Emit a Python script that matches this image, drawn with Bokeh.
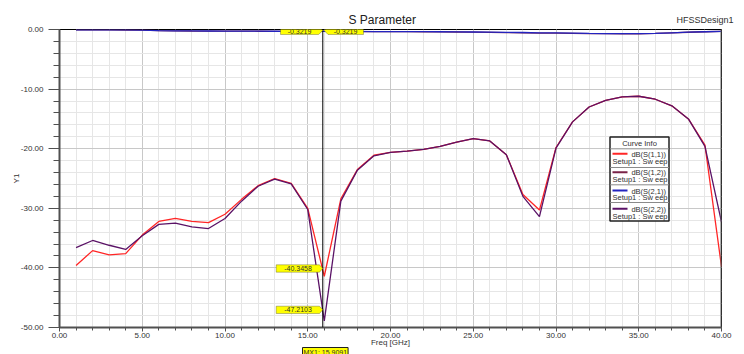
from bokeh.plotting import figure
from bokeh.models import (Range1d, SingleIntervalTicker, FixedTicker, PrintfTickFormatter,
                          Label, Span, PolyAnnotation, LinearAxis, Title)
from bokeh.core.properties import value
from bokeh.embed import file_html
from bokeh.resources import INLINE

# ---------------- data ----------------
freq = list(range(1, 41))
s11 = [-39.6, -37.1, -37.8, -37.6, -34.5, -32.2, -31.7, -32.2, -32.4, -31.0,
       -28.5, -26.2, -25.0, -25.8, -30.0, -41.4, -28.4, -23.5, -21.1, -20.6,
       -20.4, -20.1, -19.6, -18.9, -18.3, -18.7, -21.0, -27.7, -30.3, -19.8,
       -15.5, -13.0, -11.9, -11.3, -11.2, -11.7, -12.8, -15.0, -19.4, -39.8]
s22 = [-36.6, -35.4, -36.2, -36.9, -34.6, -32.7, -32.5, -33.1, -33.4, -31.7,
       -28.8, -26.3, -25.1, -25.9, -30.2, -48.9, -28.8, -23.6, -21.2, -20.6,
       -20.4, -20.1, -19.6, -18.9, -18.3, -18.7, -21.0, -28.0, -31.4, -19.9,
       -15.5, -13.0, -11.9, -11.3, -11.2, -11.7, -12.8, -15.0, -19.6, -32.3]
s21 = [-0.05, -0.05, -0.06, -0.07, -0.10, -0.20, -0.22, -0.24, -0.25, -0.26,
       -0.27, -0.28, -0.29, -0.30, -0.31, -0.322, -0.33, -0.33, -0.34, -0.35,
       -0.36, -0.37, -0.38, -0.40, -0.42, -0.45, -0.48, -0.50, -0.55, -0.58,
       -0.60, -0.65, -0.68, -0.70, -0.70, -0.65, -0.55, -0.45, -0.38, -0.32]
s12 = [-0.05, -0.05, -0.06, -0.08, -0.12, -0.20, -0.23, -0.25, -0.26, -0.27,
       -0.28, -0.29, -0.30, -0.31, -0.32, -0.322, -0.33, -0.34, -0.35, -0.36,
       -0.37, -0.38, -0.40, -0.42, -0.45, -0.48, -0.52, -0.56, -0.60, -0.62,
       -0.64, -0.68, -0.70, -0.72, -0.71, -0.66, -0.56, -0.46, -0.38, -0.32]

series_names = ["dB(S(1,1))", "dB(S(1,2))", "dB(S(2,1))", "dB(S(2,2))"]
series_colors = ["#ff2626", "#7a2348", "#2424c0", "#5a1266"]
sweep_label = "Setup1 : Sw eep"
title_text = "S Parameter"
design_text = "HFSSDesign1"
x_label = "Freq [GHz]"
y_label = "Y1"
marker_freq = 15.9091
marker_top_vals = ["-0.3219", "-0.3219"]
marker_low_vals = ["-40.3458", "-47.2103"]
marker_name = "MX1: 15.9091"

FONT = "Liberation Sans"
YEL = "#ffff00"

# ---------------- layout helpers (page px -> data) ----------------
W, H = 744, 354
L, R, T, B = 59, 23, 29, 27
X0, X1, Y0, Y1 = 0.0, 40.0, -50.0, 0.0
FW, FH = W - L - R, H - T - B


def dx(px):
    return X0 + (px - L) / FW * (X1 - X0)


def dy(py):
    return Y1 - (py - T) / FH * (Y1 - Y0)


p = figure(width=W, height=H, x_range=Range1d(X0, X1), y_range=Range1d(Y0, Y1),
           output_backend="svg", toolbar_location=None,
           min_border_left=L, min_border_right=R, min_border_top=T, min_border_bottom=B)
p.outline_line_color = "black"
p.outline_line_width = 1
p.background_fill_color = "white"
p.border_fill_color = "white"

# main axes
p.xaxis.ticker = SingleIntervalTicker(interval=5, num_minor_ticks=5)
p.yaxis.ticker = SingleIntervalTicker(interval=10, num_minor_ticks=5)
for ax in (p.xaxis[0], p.yaxis[0]):
    ax.formatter = PrintfTickFormatter(format="%.2f")
    ax.axis_line_color = "#505050"
    ax.axis_line_width = 2
    ax.major_tick_line_color = "#505050"
    ax.minor_tick_line_color = "#505050"
    ax.major_label_text_font = FONT
    ax.major_label_text_font_size = "8px"
    ax.major_label_text_color = "#333333"
    ax.axis_label_text_font = FONT
    ax.axis_label_text_font_size = "8px"
    ax.axis_label_text_font_style = "normal"
    ax.axis_label_text_color = "#333333"
    ax.major_tick_in = 0
    ax.minor_tick_in = 0
p.xaxis.major_tick_out = 4
p.xaxis.minor_tick_out = 3
p.xaxis.major_label_standoff = 1
p.xaxis.axis_label = x_label
p.xaxis.axis_label_standoff = -3
p.yaxis.major_tick_out = 11
p.yaxis.minor_tick_out = 6
p.yaxis.major_label_standoff = 5
p.yaxis.axis_label = y_label
p.yaxis.axis_label_standoff = -3

for g in (p.xgrid[0], p.ygrid[0]):
    g.grid_line_color = "#c8c8c8"
    g.minor_grid_line_color = "#e6e6e6"
    g.grid_line_width = 1


def text_axis(tick, text, size, standoff, color="#303030"):
    return LinearAxis(ticker=FixedTicker(ticks=[tick]), major_label_overrides={tick: text},
                      axis_line_color=None, major_tick_line_color=None, minor_tick_line_color=None,
                      major_tick_out=0, major_tick_in=0, minor_tick_out=0, minor_tick_in=0,
                      major_label_standoff=standoff, major_label_text_font=FONT,
                      major_label_text_font_size=size, major_label_text_color=color)


# header: design name (row next to frame) and title (pulled back into the same row)
p.add_layout(text_axis(39, design_text, "9px", 5), "above")
p.add_layout(text_axis(19.5, title_text, "12px", -15, "#202020"), "above")

# marker name box under the axis
mx_kw = dict(text=marker_name, align="left", offset=243, standoff=-8,
             text_font=FONT, text_font_size="7px", text_font_style="normal", text_color="#303030",
             background_fill_color=YEL, border_line_color="#202020", border_line_width=1)
if "padding" in Title.properties():
    mx_kw["padding"] = 1
p.add_layout(Title(**mx_kw), "below")

p.add_layout(Span(location=X1, dimension="height", line_color="#606060", line_width=2))

# ---------------- curves ----------------
p.line(freq, s12, line_color=series_colors[1], line_width=1.3)
p.line(freq, s21, line_color=series_colors[2], line_width=1.3)
p.line(freq, s11, line_color=series_colors[0], line_width=1.3)
p.line(freq, s22, line_color=series_colors[3], line_width=1.3)

# ---------------- marker ----------------
p.add_layout(Span(location=marker_freq, dimension="height", line_color="black", line_width=1))


def ybox(pxs, pys, text, tx, ty):
    p.add_layout(PolyAnnotation(xs=[dx(v) for v in pxs], ys=[dy(v) for v in pys],
                                fill_color=YEL, fill_alpha=1, line_color="#202020", line_width=1))
    p.add_layout(Label(x=dx(tx), y=dy(ty), text=text, text_align="center", text_baseline="middle",
                       text_font=FONT, text_font_size="7px", text_color="#303030"))


ybox([280, 318, 322.5, 318, 280], [26, 26, 30, 34, 34], marker_top_vals[0], 299, 30.5)
ybox([323.5, 327.5, 363, 363, 327.5], [30, 26, 26, 34, 34], marker_top_vals[1], 345, 30.5)
ybox([275.7, 319, 322.3, 319, 275.7], [264.3, 264.3, 268, 271.7, 271.7], marker_low_vals[0], 297.5, 268)
ybox([275.7, 319, 322.3, 319, 275.7], [305.7, 305.7, 309.3, 313, 313], marker_low_vals[1], 297.5, 309.3)

# ---------------- legend (Curve Info) ----------------
p.quad(left=[dx(609.5)], right=[dx(668.5)], top=[dy(136.5)], bottom=[dy(220.5)],
       fill_color="white", line_color="#202020", line_width=1.5)
div_y = [148.3, 167, 184.3, 202]
p.segment(x0=[dx(609.5)] * 4, x1=[dx(668.5)] * 4,
          y0=[dy(v) for v in div_y], y1=[dy(v) for v in div_y],
          line_color="#8a8a8a", line_width=1)
p.text(x=[dx(639)], y=[dy(142.5)], text=["Curve Info"], text_align="center", text_baseline="middle",
       text_font=value(FONT), text_font_size="7.5px", text_color="#303030")
sw_y = [153.3, 171.7, 190.0, 208.3]
p.segment(x0=[dx(612)] * 4, x1=[dx(627)] * 4, y0=[dy(v) for v in sw_y], y1=[dy(v) for v in sw_y],
          line_color=series_colors, line_width=2)
p.text(x=[dx(665.5)] * 4, y=[dy(v + 0.7) for v in sw_y], text=series_names, text_align="right",
       text_baseline="middle", text_font=value(FONT), text_font_size="7.5px", text_color="#303030")
p.text(x=[dx(612)] * 4, y=[dy(v + 7.3) for v in sw_y], text=[sweep_label] * 4, text_align="left",
       text_baseline="middle", text_font=value(FONT), text_font_size="7.5px", text_color="#303030")

open("out.html", "w").write(file_html(p, INLINE))
